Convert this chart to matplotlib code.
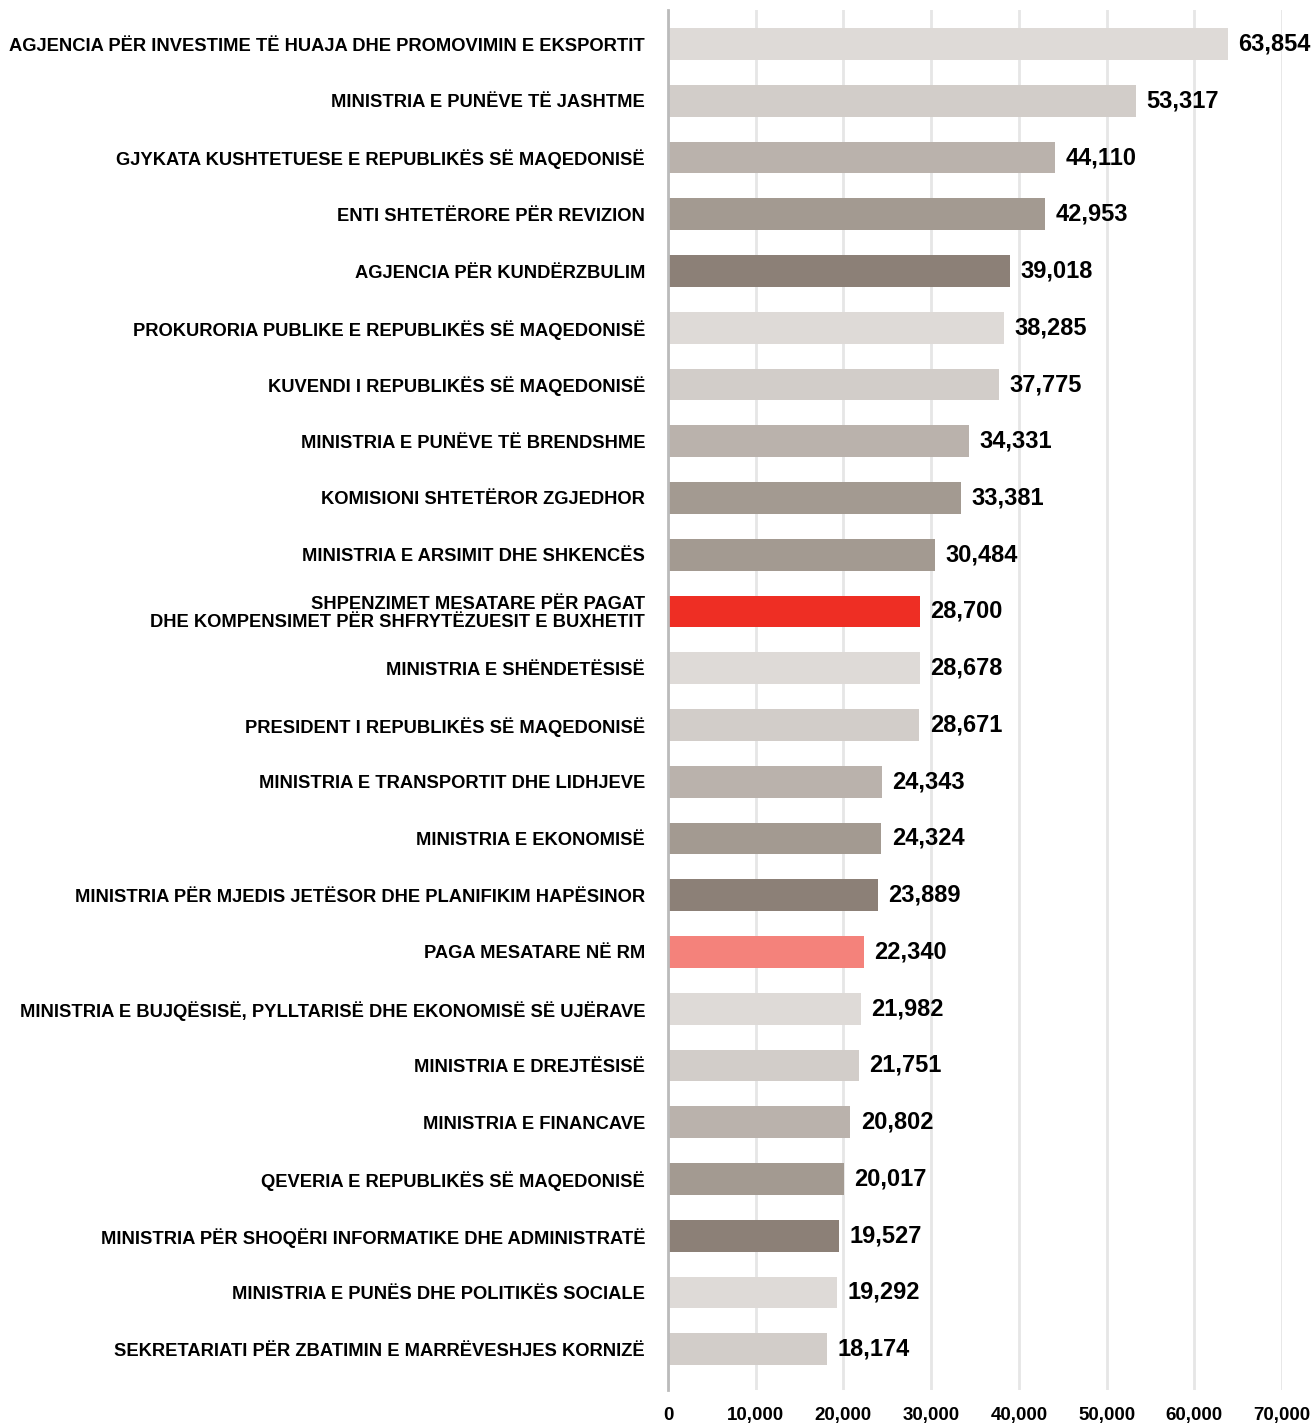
import matplotlib
matplotlib.use("Agg")
import matplotlib.pyplot as plt
from matplotlib.ticker import FuncFormatter

categories = [
    "AGJENCIA PËR INVESTIME TË HUAJA DHE PROMOVIMIN E EKSPORTIT",
    "MINISTRIA E PUNËVE TË JASHTME",
    "GJYKATA KUSHTETUESE E REPUBLIKËS SË MAQEDONISË",
    "ENTI SHTETËRORE PËR REVIZION",
    "AGJENCIA PËR KUNDËRZBULIM",
    "PROKURORIA PUBLIKE E REPUBLIKËS SË MAQEDONISË",
    "KUVENDI I REPUBLIKËS SË MAQEDONISË",
    "MINISTRIA E PUNËVE TË BRENDSHME",
    "KOMISIONI SHTETËROR ZGJEDHOR",
    "MINISTRIA E ARSIMIT DHE SHKENCËS",
    "SHPENZIMET MESATARE PËR PAGAT\nDHE KOMPENSIMET PËR SHFRYTËZUESIT E BUXHETIT",
    "MINISTRIA E SHËNDETËSISË",
    "PRESIDENT I REPUBLIKËS SË MAQEDONISË",
    "MINISTRIA E TRANSPORTIT DHE LIDHJEVE",
    "MINISTRIA E EKONOMISË",
    "MINISTRIA PËR MJEDIS JETËSOR DHE PLANIFIKIM HAPËSINOR",
    "PAGA MESATARE NË RM",
    "MINISTRIA E BUJQËSISË, PYLLTARISË DHE EKONOMISË SË UJËRAVE",
    "MINISTRIA E DREJTËSISË",
    "MINISTRIA E FINANCAVE",
    "QEVERIA E REPUBLIKËS SË MAQEDONISË",
    "MINISTRIA PËR SHOQËRI INFORMATIKE DHE ADMINISTRATË",
    "MINISTRIA E PUNËS DHE POLITIKËS SOCIALE",
    "SEKRETARIATI PËR ZBATIMIN E MARRËVESHJES KORNIZË",
]
values = [63854, 53317, 44110, 42953, 39018, 38285, 37775, 34331, 33381, 30484,
          28700, 28678, 28671, 24343, 24324, 23889, 22340, 21982, 21751, 20802,
          20017, 19527, 19292, 18174]
c1, c2, c3, c4, c5 = "#DEDAD7", "#D2CDC9", "#BAB2AC", "#A39A91", "#8C8077"
colors = [c1, c2, c3, c4, c5, c1, c2, c3, c4, c4,
          "#EE2E24", c1, c2, c3, c4, c5, "#F4827B", c1, c2, c3,
          c4, c5, c1, c2]
xticks = [0, 10000, 20000, 30000, 40000, 50000, 60000, 70000]

fig = plt.figure(figsize=(13.16, 14.26), dpi=100)
ax = fig.add_axes([668/1316, 1 - 1390/1426, (1282-668)/1316, (1390-10)/1426])

pos = list(range(len(values)))
ax.barh(pos, values, height=0.56, color=colors, zorder=3)
ax.set_ylim(len(values) - 1 + 0.72, -0.6)
ax.set_xlim(0, 70000)
ax.set_xticks(xticks)
ax.xaxis.set_major_formatter(FuncFormatter(lambda v, p: f"{int(v):,}"))
ax.set_yticks(pos)
ax.set_yticklabels(categories, fontsize=13.2, fontweight="bold",
                   family=["Liberation Sans", "DejaVu Sans"], linespacing=1.05)
ax.tick_params(axis="y", length=0, pad=16.5)
ax.tick_params(axis="x", length=0, pad=12)
for lab in ax.get_xticklabels():
    lab.set_fontsize(13.5)
    lab.set_fontweight("bold")
    lab.set_family(["Liberation Sans", "DejaVu Sans"])

ax.grid(axis="x", color="#E6E6E6", linewidth=2, zorder=0)
for s in ["top", "right", "bottom"]:
    ax.spines[s].set_visible(False)
ax.spines["left"].set_color("#BBBBBB")
ax.spines["left"].set_linewidth(2)
ax.spines["left"].set_zorder(4)

for p, v in zip(pos, values):
    ax.annotate(f"{v:,}", xy=(v, p), xytext=(7.5, 0), textcoords="offset points",
                va="center", ha="left", fontsize=17, fontweight="bold",
                family=["Liberation Sans", "DejaVu Sans"])

fig.savefig("out.png", dpi=100)
